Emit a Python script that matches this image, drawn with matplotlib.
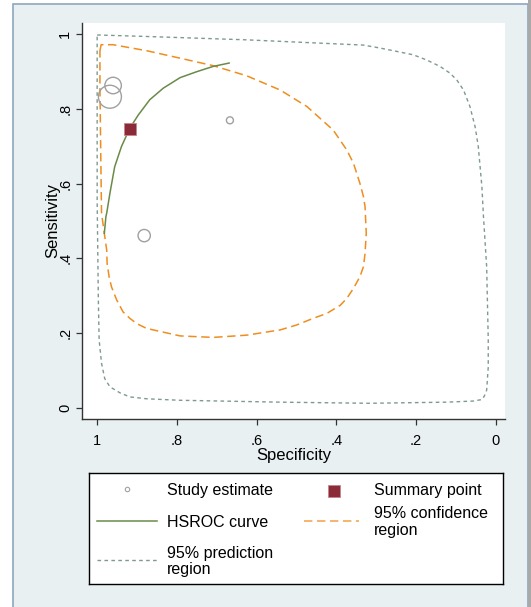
import numpy as np
import matplotlib.pyplot as plt
from matplotlib.patches import Rectangle
from matplotlib.lines import Line2D

plt.rcParams['font.family'] = ['Liberation Sans', 'DejaVu Sans']

# =============================================================================
# data (specificity, sensitivity)
# =============================================================================

study_spec = [0.968, 0.960, 0.667, 0.882]
study_sens = [0.832, 0.862, 0.769, 0.461]
study_weight = [23, 16.5, 7, 12.3]   # relative study size (circle diameter)

summary_spec = [0.918]
summary_sens = [0.747]

hsroc_spec = [0.669, 0.709, 0.750, 0.792, 0.834, 0.868, 0.897, 0.918, 0.939,
              0.956, 0.968, 0.976, 0.978, 0.982]
hsroc_sens = [0.922, 0.913, 0.899, 0.883, 0.855, 0.824, 0.783, 0.748, 0.699,
              0.645, 0.574, 0.521, 0.512, 0.467]

conf_spec = [0.993, 0.990, 0.960, 0.876, 0.792, 0.709, 0.625, 0.541, 0.474,
             0.408, 0.374, 0.357, 0.341, 0.332, 0.328, 0.325, 0.328, 0.332,
             0.341, 0.357, 0.374, 0.390, 0.424, 0.458, 0.500, 0.541, 0.625,
             0.709, 0.792, 0.876, 0.901, 0.918, 0.935, 0.951, 0.964, 0.970,
             0.975, 0.976, 0.982, 0.989, 0.991, 0.993, 0.993]
conf_sens = [0.955, 0.971, 0.971, 0.955, 0.935, 0.915, 0.888, 0.850, 0.806,
             0.743, 0.690, 0.654, 0.601, 0.565, 0.538, 0.467, 0.414, 0.378,
             0.351, 0.320, 0.293, 0.275, 0.253, 0.240, 0.222, 0.209, 0.195,
             0.189, 0.193, 0.213, 0.226, 0.240, 0.257, 0.289, 0.324, 0.351,
             0.387, 0.422, 0.467, 0.521, 0.681, 0.859, 0.955]

pred_spec = [1.0, 0.876, 0.625, 0.374, 0.332, 0.290, 0.248, 0.207, 0.173,
             0.140, 0.115, 0.098, 0.081, 0.065, 0.052, 0.044, 0.035, 0.031,
             0.023, 0.019, 0.019, 0.023, 0.029, 0.035, 0.056, 0.123, 0.316,
             0.541, 0.792, 0.876, 0.918, 0.943, 0.968, 0.981, 0.989, 0.995,
             0.997, 1.0, 1.0]
pred_sens = [0.997, 0.993, 0.984, 0.972, 0.970, 0.962, 0.953, 0.944, 0.930,
             0.913, 0.895, 0.877, 0.850, 0.806, 0.752, 0.699, 0.592, 0.512,
             0.378, 0.182, 0.110, 0.048, 0.032, 0.023, 0.019, 0.016, 0.013,
             0.016, 0.021, 0.025, 0.030, 0.041, 0.057, 0.079, 0.120, 0.182,
             0.289, 0.556, 0.997]

ticks = [1, 0.8, 0.6, 0.4, 0.2, 0]
tick_labels = ['1', '.8', '.6', '.4', '.2', '0']

# =============================================================================
# colours
# =============================================================================
bg = '#E8F0F2'
c_study = '#A0A0A0'
c_summary = '#8B2B37'
c_hsroc = '#6A8A48'
c_conf = '#EE8E1E'
c_pred = '#7E9A90'

W, H = 531, 607
fig = plt.figure(figsize=(W / 100, H / 100), dpi=100, facecolor='white')

# stata style graph region
fig.patches.append(Rectangle((13 / W, -0.02), 515 / W, 1.02 - 4 / H, transform=fig.transFigure,
                             facecolor=bg, edgecolor='#8FA6BE', linewidth=1.2, zorder=-10))
fig.patches.append(Rectangle((528 / W, 0), 3 / W, 1, transform=fig.transFigure,
                             facecolor='#A9A9A9', edgecolor='none', zorder=-10))

ax = fig.add_axes([82 / W, 1 - 419 / H, 423 / W, 396 / H])
ax.set_facecolor('white')

ax.plot(pred_spec, pred_sens, color=c_pred, lw=1, dashes=(2.6, 2.4))
ax.plot(conf_spec, conf_sens, color=c_conf, lw=1.1, dashes=(5.5, 3))
ax.plot(hsroc_spec, hsroc_sens, color=c_hsroc, lw=1.1)
ax.scatter(study_spec, study_sens, s=[(w * 0.72) ** 2 for w in study_weight],
           facecolors='none', edgecolors=c_study, linewidths=1, zorder=4)
ax.plot(summary_spec, summary_sens, 's', color=c_summary, markersize=8,
        markeredgecolor='#C7848E', markeredgewidth=0.6, zorder=5)

ax.set_xlim(1.038, -0.023)
ax.set_ylim(-0.029, 1.029)
ax.set_xticks(ticks)
ax.set_xticklabels(tick_labels)
ax.set_yticks(ticks)
ax.set_yticklabels(tick_labels, rotation=90, va='center')
ax.tick_params(axis='both', labelsize=10.5, length=4, width=0.9, color='#333333')
ax.tick_params(axis='x', pad=7)
ax.tick_params(axis='y', pad=3)
for s in ['top', 'right']:
    ax.spines[s].set_visible(False)
for s in ['left', 'bottom']:
    ax.spines[s].set_color('#333333')
    ax.spines[s].set_linewidth(1)
ax.set_xlabel('Specificity', fontsize=12)
ax.set_ylabel('Sensitivity', fontsize=12)
ax.xaxis.set_label_coords(0.5, -(448 - 419) / 396)
ax.yaxis.set_label_coords(-(82 - 60) / 423, 0.5)

# =============================================================================
# legend drawn by hand so rows line up like stata
# =============================================================================
lg = fig.add_axes([89 / W, 1 - 584 / H, 414 / W, 111 / H])
lg.set_xlim(89, 503)
lg.set_ylim(584, 473)
lg.set_xticks([])
lg.set_yticks([])
lg.set_facecolor('white')
for s in lg.spines.values():
    s.set_color('black')
    s.set_linewidth(1)

lg.add_line(Line2D([126.7], [489], marker='o', markersize=3.2, markerfacecolor='none',
                   markeredgecolor=c_study, markeredgewidth=0.8, linestyle='none'))
lg.add_line(Line2D([334], [490.5], marker='s', markersize=8, color=c_summary,
                   markeredgecolor='#C7848E', markeredgewidth=0.6, linestyle='none'))
lg.add_line(Line2D([97, 157], [521, 521], color=c_hsroc, lw=1.1))
lg.add_line(Line2D([304, 359], [520.5, 520.5], color='#F3A04A', lw=1.1, dashes=(5.5, 3)))
lg.add_line(Line2D([97, 157], [560, 560], color=c_pred, lw=1, dashes=(2.6, 2.4)))

fs = 11.5
lg.text(167, 490, 'Study estimate', fontsize=fs, va='center')
lg.text(374, 490, 'Summary point', fontsize=fs, va='center')
lg.text(167, 522, 'HSROC curve', fontsize=fs, va='center')
lg.text(374, 522, '95% confidence\nregion', fontsize=fs, va='center', linespacing=1.12)
lg.text(167, 561.5, '95% prediction\nregion', fontsize=fs, va='center', linespacing=1.12)

fig.savefig('out.png', dpi=100, facecolor='white')
